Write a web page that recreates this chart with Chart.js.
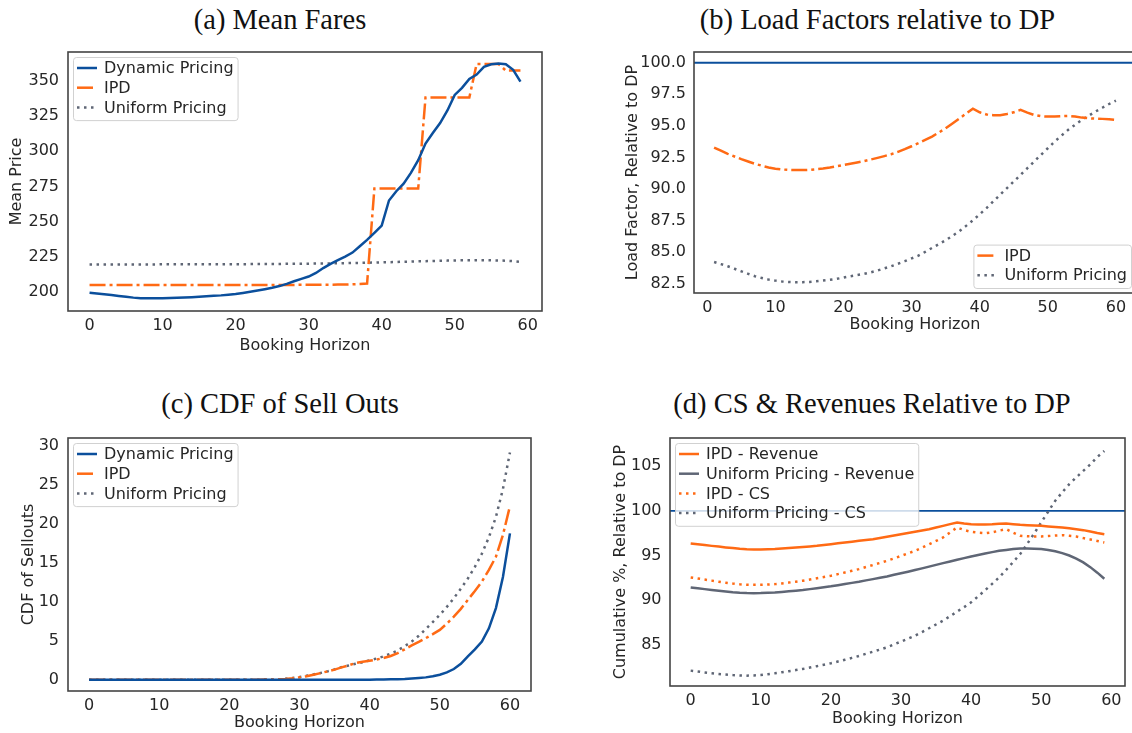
<!DOCTYPE html>
<html>
<head>
<meta charset="utf-8">
<script src="https://cdn.jsdelivr.net/npm/chart.js@4.4.1/dist/chart.umd.min.js"></script>
<style>
html, body { margin: 0; padding: 0; background: #fff; width: 1132px; height: 733px; overflow: hidden; position: relative; }
canvas { position: absolute; }
.titulo { position: absolute; font-family: "Liberation Serif", serif; font-size: 28.5px; color: #111; transform: translate(-50%, -50%); white-space: nowrap; }
</style>
</head>
<body>
<div class="titulo" style="left:280px;top:19.5px">(a) Mean Fares</div>
<div class="titulo" style="left:877.5px;top:19.5px">(b) Load Factors relative to DP</div>
<div class="titulo" style="left:280px;top:404px">(c) CDF of Sell Outs</div>
<div class="titulo" style="left:872px;top:404px">(d) CS &amp; Revenues Relative to DP</div>

<canvas id="graficoA" width="552" height="314" style="left:0px;top:42px"></canvas>
<canvas id="graficoB" width="536" height="293" style="left:610px;top:42px"></canvas>
<canvas id="graficoC" width="541" height="305" style="left:0px;top:428px"></canvas>
<canvas id="graficoD" width="535" height="301" style="left:600px;top:428px"></canvas>

<script>
// cores
const azul = '#0b4f9c'
const laranja = '#ff6a14'
const cinza = '#5f6675'
const tracoPonto = [16, 4, 3, 4]
const pontilhado = [2.5, 4.5]

// linha de referencia (DP = 100)
const referenciaDP = 100

// (a) Mean Fares, horizonte 0..59
const inicioA = 0
const tarifaDP = [199.5, 199, 198.4, 197.9, 197.2, 196.6, 196, 195.6, 195.5, 195.5,
  195.5, 195.7, 195.9, 196.1, 196.3, 196.6, 196.9, 197.3, 197.6, 198.1,
  198.6, 199.3, 200.1, 201, 202, 203, 204.2, 205.8, 207.6, 209.3,
  211, 213.5, 217, 220, 222.7, 225.2, 228, 232.5, 237, 242,
  247.2, 265, 271.6, 277, 284.6, 293.6, 305.5, 313, 320, 329,
  340, 345, 351.4, 354.5, 360, 361.8, 362.3, 361.8, 357.8, 349.5]
const tarifaIPD = [205, 205, 205, 205, 205, 205, 205, 205, 205, 205,
  205, 205, 205, 205, 205, 205, 205, 205, 205, 205,
  205, 205, 205, 205, 205, 205, 205, 205, 205, 205.1,
  205.1, 205.1, 205.2, 205.2, 205.3, 205.3, 205.5, 205.7, 206, 273.5,
  273.5, 273.5, 273.5, 273.5, 273.5, 273.5, 338.2, 338.2, 338.2, 338.2,
  338.2, 338.2, 338.2, 362, 362, 362, 362, 357.3, 357.3, 357.3]
const tarifaUniforme = [219.6, 219.6, 219.6, 219.6, 219.6, 219.6, 219.6, 219.6, 219.6, 219.6,
  219.7, 219.7, 219.7, 219.7, 219.7, 219.7, 219.7, 219.7, 219.7, 219.8,
  219.8, 219.8, 219.8, 219.9, 219.9, 219.9, 219.9, 220, 220, 220,
  220.1, 220.2, 220.2, 220.3, 220.4, 220.5, 220.6, 220.7, 220.8, 220.9,
  221.1, 221.2, 221.3, 221.5, 221.6, 221.8, 221.9, 222, 222.2, 222.3,
  222.4, 222.5, 222.5, 222.6, 222.6, 222.5, 222.4, 222.2, 221.9, 221.4]

// (b) Load Factors relative to DP, horizonte 1..60
const inicioB = 1
const cargaIPD = [93.28, 93.03, 92.78, 92.57, 92.36, 92.17, 91.99, 91.84, 91.7, 91.6,
  91.54, 91.5, 91.49, 91.49, 91.51, 91.56, 91.62, 91.7, 91.8, 91.9,
  91.99, 92.09, 92.2, 92.33, 92.46, 92.6, 92.75, 92.94, 93.15, 93.38,
  93.62, 93.88, 94.15, 94.47, 94.8, 95.18, 95.57, 95.97, 96.36, 96.07,
  95.9, 95.84, 95.84, 95.94, 96.07, 96.26, 96.05, 95.86, 95.76, 95.73,
  95.73, 95.76, 95.78, 95.73, 95.65, 95.6, 95.57, 95.55, 95.52, 95.47]
const cargaUniforme = [84.21, 84.04, 83.87, 83.67, 83.47, 83.27, 83.08, 82.94, 82.81, 82.73,
  82.66, 82.62, 82.6, 82.61, 82.63, 82.68, 82.74, 82.8, 82.87, 82.97,
  83.08, 83.17, 83.26, 83.39, 83.53, 83.7, 83.87, 84.07, 84.27, 84.49,
  84.71, 85.01, 85.32, 85.62, 85.93, 86.28, 86.64, 87.07, 87.51, 87.99,
  88.48, 89.01, 89.54, 90.06, 90.59, 91.11, 91.64, 92.17, 92.7, 93.22,
  93.75, 94.22, 94.68, 95.08, 95.47, 95.8, 96.13, 96.43, 96.73, 97.0]

// (c) CDF of Sell Outs, horizonte 0..60
const inicioC = 0
const esgotadoDP = [0, 0, 0, 0, 0, 0, 0, 0, 0, 0,
  0, 0, 0, 0, 0, 0, 0, 0, 0, 0,
  0, 0, 0, 0, 0, 0, 0, 0, 0, 0,
  0, 0, 0, 0, 0, 0, 0, 0, 0.01, 0.01,
  0.01, 0.02, 0.03, 0.05, 0.07, 0.1, 0.15, 0.22, 0.3, 0.45,
  0.64, 0.94, 1.37, 2.05, 3.0, 3.9, 4.9, 6.6, 9.2, 13.2,
  18.8]
const esgotadoIPD = [0, 0, 0, 0, 0, 0, 0, 0, 0, 0,
  0, 0, 0, 0, 0, 0, 0, 0, 0, 0,
  0, 0, 0, 0, 0, 0.02, 0.03, 0.05, 0.1, 0.18,
  0.3, 0.45, 0.64, 0.85, 1.07, 1.3, 1.58, 1.85, 2.14, 2.3,
  2.44, 2.6, 2.78, 3.05, 3.42, 3.9, 4.4, 4.85, 5.34, 5.85,
  6.4, 7.2, 8.1, 9.1, 10.26, 11.4, 12.6, 14.1, 15.8, 18.6,
  22.3]
const esgotadoUniforme = [0, 0, 0, 0, 0, 0, 0, 0, 0, 0,
  0, 0, 0, 0, 0, 0, 0, 0, 0, 0,
  0, 0, 0, 0, 0, 0.02, 0.03, 0.05, 0.12, 0.22,
  0.34, 0.5, 0.68, 0.87, 1.07, 1.33, 1.62, 1.83, 2.05, 2.25,
  2.48, 2.72, 3.0, 3.35, 3.76, 4.3, 4.9, 5.65, 6.5, 7.4,
  8.33, 9.35, 10.47, 11.7, 13.0, 14.5, 16.2, 18.3, 20.9, 24.5,
  29.2]

// (d) CS & Revenues Relative to DP, horizonte 0..59
const inicioD = 0
const receitaIPD = [96.35, 96.26, 96.17, 96.08, 96.0, 95.91, 95.83, 95.75, 95.69, 95.68,
  95.68, 95.7, 95.73, 95.78, 95.83, 95.89, 95.95, 96.02, 96.09, 96.18,
  96.27, 96.36, 96.46, 96.55, 96.64, 96.73, 96.83, 96.96, 97.1, 97.24,
  97.39, 97.53, 97.67, 97.81, 97.95, 98.13, 98.32, 98.51, 98.7, 98.58,
  98.5, 98.48, 98.47, 98.5, 98.55, 98.58, 98.51, 98.44, 98.4, 98.36,
  98.32, 98.26, 98.2, 98.14, 98.05, 97.95, 97.84, 97.69, 97.53, 97.39]
const receitaUniforme = [91.43, 91.33, 91.24, 91.15, 91.06, 90.98, 90.9, 90.84, 90.8, 90.79,
  90.8, 90.83, 90.87, 90.93, 91.0, 91.07, 91.14, 91.24, 91.34, 91.45,
  91.55, 91.68, 91.81, 91.94, 92.07, 92.22, 92.36, 92.51, 92.66, 92.84,
  93.01, 93.19, 93.37, 93.56, 93.76, 93.95, 94.15, 94.34, 94.53, 94.71,
  94.9, 95.06, 95.22, 95.38, 95.53, 95.63, 95.72, 95.79, 95.79, 95.77,
  95.72, 95.62, 95.47, 95.27, 95.0, 94.65, 94.23, 93.7, 93.08, 92.4]
const excedenteIPD = [92.55, 92.43, 92.31, 92.19, 92.07, 91.96, 91.86, 91.78, 91.73, 91.72,
  91.73, 91.76, 91.8, 91.88, 91.97, 92.07, 92.18, 92.31, 92.45, 92.59,
  92.74, 92.92, 93.1, 93.29, 93.48, 93.71, 93.94, 94.17, 94.41, 94.68,
  94.96, 95.24, 95.53, 95.88, 96.25, 96.63, 97.02, 97.58, 98.14, 97.85,
  97.65, 97.56, 97.5, 97.6, 97.78, 97.95, 97.55, 97.2, 97.15, 97.13,
  97.13, 97.18, 97.24, 97.28, 97.2, 97.12, 96.95, 96.8, 96.63, 96.46]
const excedenteUniforme = [82.12, 82.02, 81.92, 81.83, 81.75, 81.68, 81.62, 81.58, 81.56, 81.58,
  81.63, 81.72, 81.82, 81.94, 82.06, 82.18, 82.31, 82.46, 82.62, 82.78,
  82.94, 83.14, 83.34, 83.55, 83.76, 84.0, 84.24, 84.48, 84.73, 85.05,
  85.37, 85.7, 86.03, 86.44, 86.86, 87.28, 87.71, 88.21, 88.72, 89.23,
  89.76, 90.43, 91.12, 91.83, 92.55, 93.4, 94.27, 95.16, 96.3, 97.48,
  98.7, 99.93, 101.12, 102.08, 102.98, 103.75, 104.47, 105.2, 106.03, 106.7]

Chart.defaults.font.family = '"DejaVu Sans", sans-serif'
Chart.defaults.font.size = 16
Chart.defaults.color = '#262626'

//transforma a lista de valores em pontos x/y
function pontos(valores, inicio) {
  return valores.map((v, i) => ({x: inicio + i, y: v}))
}

function serie(label, valores, inicio, cor, traco) {
  return {
    label: label,
    data: pontos(valores, inicio),
    borderColor: cor,
    backgroundColor: cor,
    borderWidth: 2.5,
    borderDash: traco,
    pointRadius: 0,
    tension: 0,
    fill: false
  }
}

// moldura em volta da area do grafico
const moldura = {
  id: 'moldura',
  afterDraw(chart) {
    const {ctx, chartArea: a} = chart
    ctx.save()
    ctx.strokeStyle = '#444'
    ctx.lineWidth = 1.6
    ctx.strokeRect(a.left, a.top, a.right - a.left, a.bottom - a.top)
    ctx.restore()
  }
}

// linha horizontal no valor de referencia
const linhaRef = {
  id: 'linhaRef',
  beforeDatasetsDraw(chart, args, opts) {
    if (opts.valor === undefined) return
    const {ctx, chartArea: a} = chart
    const y = chart.scales.y.getPixelForValue(opts.valor)
    ctx.save()
    ctx.strokeStyle = azul
    ctx.lineWidth = 1.8
    ctx.beginPath()
    ctx.moveTo(a.left, y)
    ctx.lineTo(a.right, y)
    ctx.stroke()
    ctx.restore()
  }
}

// legenda com caixa dentro da area
const legendaCaixa = {
  id: 'legendaCaixa',
  afterDraw(chart, args, opts) {
    const {ctx, chartArea: a} = chart
    const itens = chart.data.datasets
    ctx.save()
    ctx.font = '16px "DejaVu Sans"'
    const larguraTexto = Math.max(...itens.map(d => ctx.measureText(d.label).width))
    const w = 31 + larguraTexto + 4
    const h = itens.length * 19.7 + 4
    const x = opts.canto === 'br' ? a.right - 5 - w : a.left + 5
    const y = opts.canto === 'br' ? a.bottom - 5 - h : a.top + 5
    ctx.beginPath()
    ctx.roundRect(x + 0.5, y + 0.5, w, h, 3)
    ctx.fillStyle = 'rgba(255,255,255,0.8)'
    ctx.fill()
    ctx.strokeStyle = 'rgba(204,204,204,0.9)'
    ctx.lineWidth = 1
    ctx.stroke()
    itens.forEach((d, i) => {
      const cy = y + 11 + i * 19.7
      ctx.setLineDash(d.borderDash || [])
      ctx.strokeStyle = d.borderColor
      ctx.lineWidth = d.borderWidth
      ctx.beginPath()
      ctx.moveTo(x + 4, cy)
      ctx.lineTo(x + 24, cy)
      ctx.stroke()
      ctx.setLineDash([])
      ctx.fillStyle = '#262626'
      ctx.textBaseline = 'middle'
      ctx.fillText(d.label, x + 31, cy + 1)
    })
    ctx.restore()
  }
}

function criarGrafico(id, datasets, cfg) {
  return new Chart(document.getElementById(id), {
    type: 'line',
    data: {datasets: datasets},
    plugins: [linhaRef, moldura, legendaCaixa],
    options: {
      responsive: false,
      animation: false,
      devicePixelRatio: 1,
      layout: {padding: {left: 0, top: 10, right: 10, bottom: 0}},
      plugins: {
        legend: {display: false},
        tooltip: {enabled: false},
        linhaRef: {valor: cfg.referencia},
        legendaCaixa: {canto: cfg.canto}
      },
      scales: {
        x: {
          type: 'linear',
          min: cfg.xMin,
          max: cfg.xMax,
          grid: {display: false, drawTicks: false},
          border: {display: false},
          ticks: {stepSize: 10, includeBounds: false, autoSkip: false, maxRotation: 0, padding: 5},
          title: {display: true, text: 'Booking Horizon', padding: {top: 0, bottom: 0.5}},
          afterFit: s => { s.height = cfg.altX; s.paddingLeft = 0; s.paddingRight = 0 }
        },
        y: {
          type: 'linear',
          min: cfg.yMin,
          max: cfg.yMax,
          grid: {display: false, drawTicks: false},
          border: {display: false},
          ticks: {stepSize: cfg.passoY, includeBounds: false, autoSkip: false, padding: cfg.padTickY,
            callback: cfg.formato || (v => v)},
          title: {display: true, text: cfg.tituloY, padding: {top: cfg.padTituloY, bottom: 0}},
          afterFit: s => { s.width = cfg.largY; s.paddingTop = 0; s.paddingBottom = 0 }
        }
      }
    }
  })
}

criarGrafico('graficoA', [
  serie('Dynamic Pricing', tarifaDP, inicioA, azul, []),
  serie('IPD', tarifaIPD, inicioA, laranja, tracoPonto),
  serie('Uniform Pricing', tarifaUniforme, inicioA, cinza, pontilhado)
], {xMin: -2.95, xMax: 61.95, yMin: 186.5, yMax: 370.5, passoY: 25, tituloY: 'Mean Price',
    padTituloY: 7.4, padTickY: 9, largY: 68, altX: 45, canto: 'tl'})

criarGrafico('graficoB', [
  serie('IPD', cargaIPD, inicioB, laranja, tracoPonto),
  serie('Uniform Pricing', cargaUniforme, inicioB, cinza, pontilhado)
], {xMin: -1.95, xMax: 62.95, yMin: 81.75, yMax: 100.85, passoY: 2.5, tituloY: 'Load Factor, Relative to DP',
    padTituloY: 13.4, padTickY: 8, largY: 84, altX: 42, canto: 'br', referencia: referenciaDP,
    formato: v => v.toFixed(1)})

criarGrafico('graficoC', [
  serie('Dynamic Pricing', esgotadoDP, inicioC, azul, []),
  serie('IPD', esgotadoIPD, inicioC, laranja, tracoPonto),
  serie('Uniform Pricing', esgotadoUniforme, inicioC, cinza, pontilhado)
], {xMin: -3, xMax: 63, yMin: -1.45, yMax: 31.05, passoY: 5, tituloY: 'CDF of Sellouts',
    padTituloY: 19, padTickY: 9, largY: 68, altX: 42, canto: 'tl'})

criarGrafico('graficoD', [
  serie('IPD - Revenue', receitaIPD, inicioD, laranja, []),
  serie('Uniform Pricing - Revenue', receitaUniforme, inicioD, cinza, []),
  serie('IPD - CS', excedenteIPD, inicioD, laranja, pontilhado),
  serie('Uniform Pricing - CS', excedenteUniforme, inicioD, cinza, pontilhado)
], {xMin: -2.95, xMax: 61.95, yMin: 80.4, yMax: 108.15, passoY: 5, tituloY: 'Cumulative %, Relative to DP',
    padTituloY: 11.4, padTickY: 8.5, largY: 70, altX: 43, canto: 'tl', referencia: referenciaDP})
</script>
</body>
</html>
